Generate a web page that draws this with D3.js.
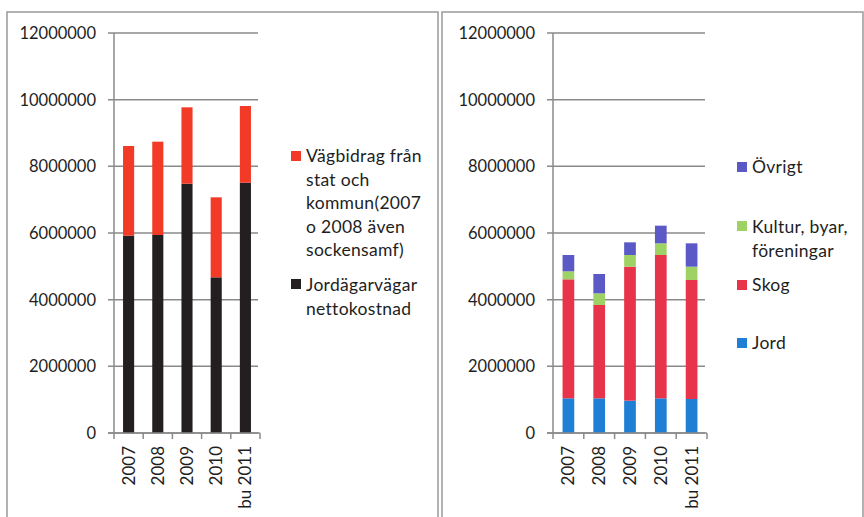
<!DOCTYPE html>
<html><head><meta charset="utf-8">
<script src="https://cdn.jsdelivr.net/npm/d3@7"></script>
<style>body{margin:0;background:#fff}svg{display:block}text{font-family:Lato,"Open Sans",sans-serif;fill:#1e1e1e}</style>
</head><body><svg id="c" width="864" height="517"></svg>
<script>
const categories = ["2007","2008","2009","2010","bu 2011"];
const yTicks = [0,2000000,4000000,6000000,8000000,10000000,12000000];
// Left chart
const jordagarvagar = [5920000,5940000,7480000,4670000,7510000];
const vagbidrag = [2690000,2800000,2290000,2400000,2300000];
// Right chart
const jord = [1040000,1040000,970000,1040000,1020000];
const skog = [3570000,2800000,4020000,4300000,3570000];
const kultur = [240000,350000,350000,350000,400000];
const ovrigt = [490000,580000,380000,530000,700000];

const svg = d3.select("#c");
// panel frames
svg.append("rect").attr("x",7).attr("y",12).attr("width",431).attr("height",520).attr("fill","none").attr("stroke","#999").attr("stroke-width",1.5);
svg.append("rect").attr("x",442).attr("y",12).attr("width",421).attr("height",520).attr("fill","none").attr("stroke","#999").attr("stroke-width",1.5);

const y = d3.scaleLinear().domain([0,12000000]).range([433,33]);

function panel(opts){
  const g = svg.append("g");
  const x = d3.scaleBand().domain(categories).range([opts.x0, opts.x1]).paddingInner(0.62).paddingOuter(0.31);
  g.selectAll(".grid").data(yTicks).enter().append("line")
    .attr("x1",opts.x0-6).attr("x2",opts.gx1).attr("y1",d=>y(d)).attr("y2",d=>y(d))
    .attr("stroke","#8a8a8a").attr("stroke-width",1.5);
  g.selectAll(".yl").data(yTicks).enter().append("text")
    .attr("x",opts.x0-18).attr("y",d=>y(d)+6).attr("text-anchor","end")
    .attr("font-size",16.5).text(d=>d3.format("d")(d));
  const stack = d3.stack().keys(opts.keys.map((k,i)=>i))(categories.map((c,j)=>opts.series.map(s=>s[j])));
  stack.forEach((layer,i)=>{
    g.selectAll(".b"+i).data(layer).enter().append("rect")
      .attr("x",(d,j)=>x(categories[j])).attr("width",x.bandwidth())
      .attr("y",d=>y(d[1])).attr("height",d=>y(d[0])-y(d[1]))
      .attr("fill",opts.colors[i]);
  });
  g.append("line").attr("x1",opts.x0).attr("x2",opts.x0).attr("y1",33).attr("y2",433).attr("stroke","#8a8a8a").attr("stroke-width",1.5);
  g.append("line").attr("x1",opts.x0-6).attr("x2",opts.x1).attr("y1",433).attr("y2",433).attr("stroke","#8a8a8a").attr("stroke-width",1.5);
  const bounds = d3.range(categories.length+1).map(i=>opts.x0 + i*(opts.x1-opts.x0)/categories.length);
  g.selectAll(".xt").data(bounds).enter().append("line")
    .attr("x1",d=>d).attr("x2",d=>d).attr("y1",433).attr("y2",439).attr("stroke","#8a8a8a").attr("stroke-width",1.5);
  g.selectAll(".xl").data(categories).enter().append("text")
    .attr("transform",d=>`translate(${x(d)+x.bandwidth()/2+6},446) rotate(-90)`)
    .attr("text-anchor","end").attr("font-size",17).text(d=>d);
  opts.legend.forEach(L=>{
    g.append("rect").attr("x",opts.lx).attr("y",L.sy).attr("width",10).attr("height",10).attr("fill",L.color);
    L.lines.forEach((t,k)=>{
      g.append("text").attr("x",opts.lx+15).attr("y",L.ty+k*23.5).attr("font-size",17.5).attr("letter-spacing",0.3).text(t);
    });
  });
}

panel({x0:114,x1:260,gx1:258,keys:["Jordägarvägar nettokostnad","Vägbidrag från stat och kommun"],
  series:[jordagarvagar,vagbidrag],colors:["#231f20","#f23a26"],lx:291,
  legend:[
    {color:"#f23a26",sy:151,ty:162,lines:["Vägbidrag från","stat och","kommun(2007","o 2008 även","sockensamf)"]},
    {color:"#231f20",sy:279,ty:291,lines:["Jordägarvägar","nettokostnad"]}
  ]});

panel({x0:553,x1:707,gx1:705,keys:["Jord","Skog","Kultur","Övrigt"],
  series:[jord,skog,kultur,ovrigt],colors:["#1e7fd4","#e8344a","#9fd264","#5a59c6"],lx:737,
  legend:[
    {color:"#5a59c6",sy:162,ty:173,lines:["Övrigt"]},
    {color:"#9fd264",sy:221,ty:233,lines:["Kultur, byar,","föreningar"]},
    {color:"#e8344a",sy:280,ty:291,lines:["Skog"]},
    {color:"#1e7fd4",sy:338,ty:349,lines:["Jord"]}
  ]});
</script></body></html>
